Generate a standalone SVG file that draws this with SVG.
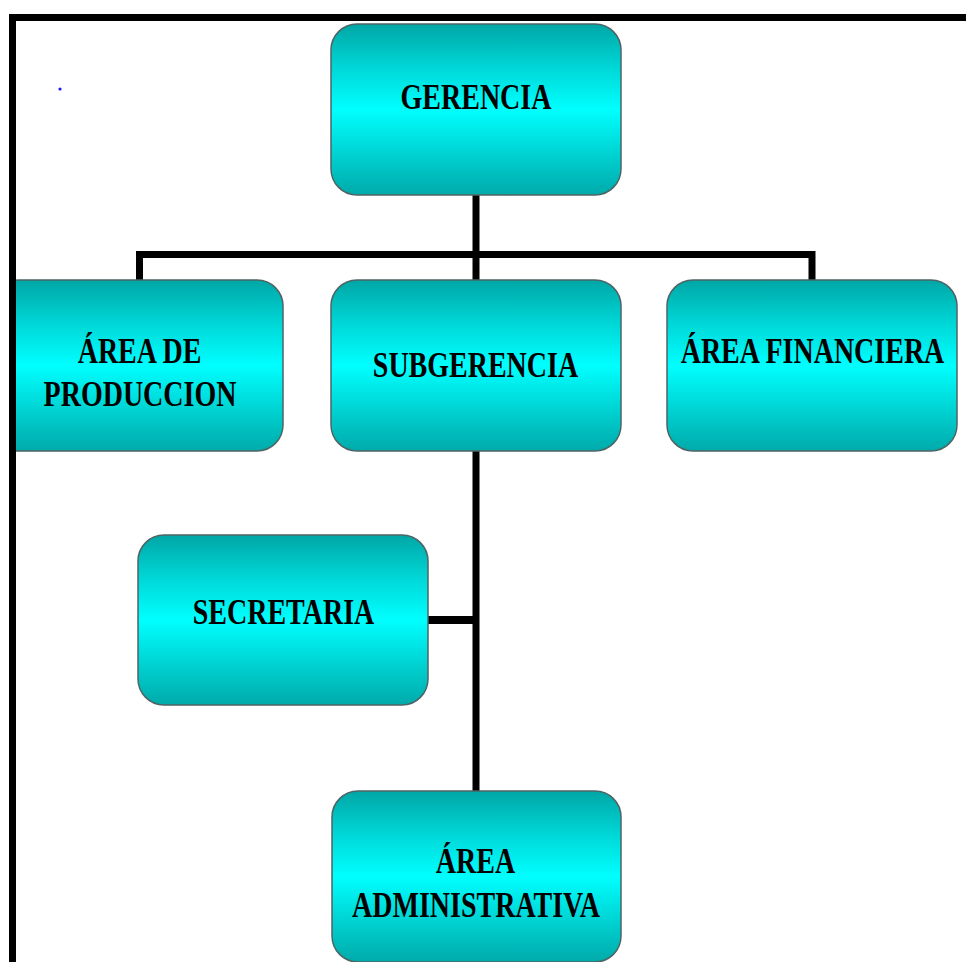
<svg xmlns="http://www.w3.org/2000/svg" width="966" height="962" viewBox="0 0 966 962">
<defs>
<linearGradient id="cyan" x1="0" y1="0" x2="0" y2="1">
<stop offset="0" stop-color="#00a6a6"/>
<stop offset="0.25" stop-color="#00d6d6"/>
<stop offset="0.5" stop-color="#00ffff"/>
<stop offset="0.75" stop-color="#00d4d4"/>
<stop offset="1" stop-color="#00aaaa"/>
</linearGradient>
<clipPath id="frameClip"><rect x="12" y="0" width="960" height="962"/></clipPath>
</defs>
<style>
.box{fill:url(#cyan);stroke:#4f6464;stroke-width:1.5}
.lbl{font-family:"Liberation Serif","Times New Roman",serif;font-weight:bold;font-size:28px;fill:#000;text-anchor:middle}
.con{fill:none;stroke:#000;stroke-width:7;stroke-linejoin:miter;stroke-linecap:butt}
</style>
<rect x="0" y="0" width="966" height="962" fill="#ffffff"/>
<g id="connectors">
<path class="con" d="M476,195 V280"/>
<path class="con" d="M139.5,280 V254.5 H812 V280"/>
<path class="con" d="M476,451 V791"/>
<path class="con" style="stroke-width:8" d="M428,620 H476"/>
</g>
<g id="gerencia">
<rect class="box" x="331" y="24" width="290" height="171" rx="26" ry="26"/>
<text class="lbl" transform="translate(476,109) scale(1,1.25)">GERENCIA</text>
</g>
<g id="produccion" clip-path="url(#frameClip)">
<rect class="box" x="-7" y="280" width="290" height="171" rx="26" ry="26"/>
<text class="lbl" transform="translate(139.5,363) scale(1,1.25)">ÁREA DE</text>
<text class="lbl" transform="translate(140,406) scale(1,1.25)">PRODUCCION</text>
</g>
<g id="subgerencia">
<rect class="box" x="331" y="280" width="290" height="171" rx="26" ry="26"/>
<text class="lbl" transform="translate(475.5,377) scale(1,1.25)">SUBGERENCIA</text>
</g>
<g id="financiera">
<rect class="box" x="667" y="280" width="290" height="171" rx="26" ry="26"/>
<text class="lbl" transform="translate(812.5,363) scale(1,1.25)">ÁREA FINANCIERA</text>
</g>
<g id="secretaria">
<rect class="box" x="138" y="535" width="290" height="170" rx="26" ry="26"/>
<text class="lbl" transform="translate(283.5,624) scale(1,1.25)">SECRETARIA</text>
</g>
<g id="administrativa">
<rect class="box" x="332" y="791" width="289" height="171" rx="26" ry="26"/>
<text class="lbl" transform="translate(475.5,873) scale(1,1.25)">ÁREA</text>
<text class="lbl" transform="translate(476,917) scale(1,1.25)">ADMINISTRATIVA</text>
</g>
<g id="frame">
<path class="con" d="M12.5,962 V17.5 H966"/>
<circle cx="60" cy="89" r="1.6" fill="#1a1aff"/>
</g>
</svg>
